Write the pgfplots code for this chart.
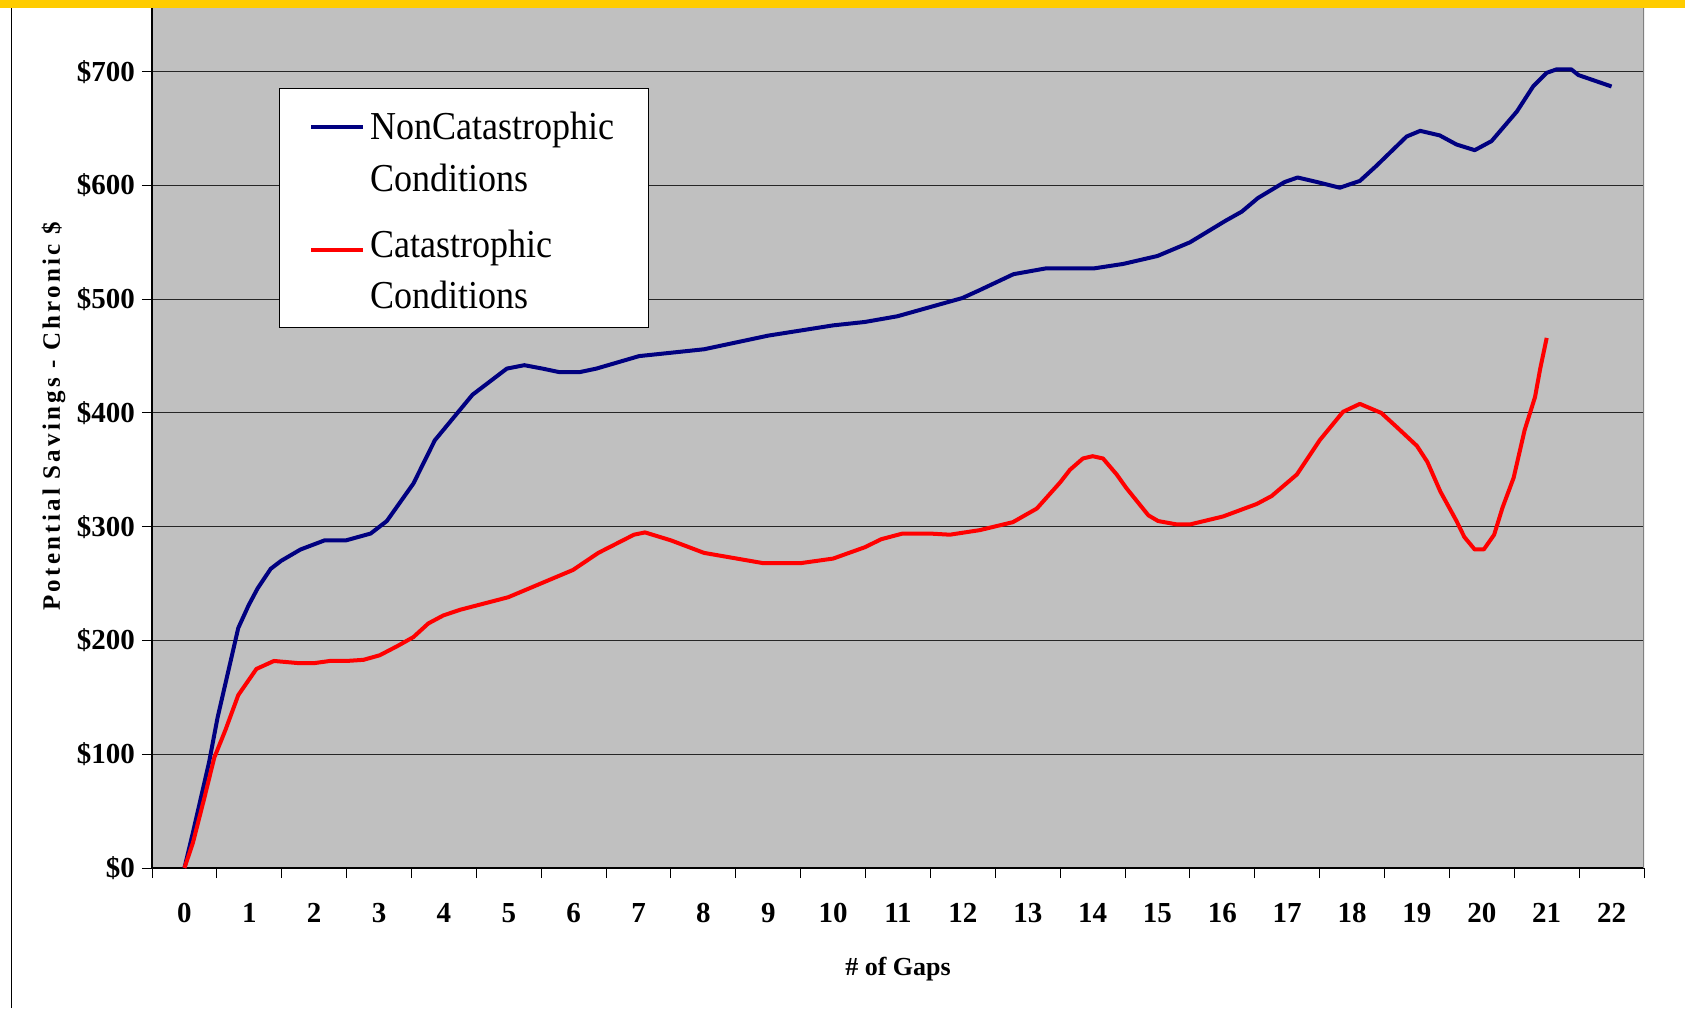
\documentclass[border=0pt]{standalone}
\usepackage{fontspec}
\setmainfont{Liberation Serif}
\usepackage{graphicx}
\usepackage{pgfplots}
\pgfplotsset{compat=1.18}
\definecolor{plotgray}{RGB}{192,192,192}
\definecolor{navyline}{RGB}{0,0,128}
\definecolor{redline}{RGB}{255,0,0}
\definecolor{barYellow}{RGB}{255,204,0}
\newcommand{\lt}[1]{\scalebox{1}[1.1]{#1}}

\pgfplotstableread{
x y
0 0
0.13 31
0.38 93
0.51 132
0.83 211
0.99 231
1.13 246
1.33 263
1.49 270
1.79 280
2.16 288
2.49 288
2.87 294
3.12 305
3.53 338
3.86 376
4.44 416
4.97 439
5.24 442
5.52 439
5.77 436
6.10 436
6.35 439
7.01 450
8.01 456
9.00 468
10.00 477
10.49 480
10.99 485
11.99 501
12.26 508
12.78 522
13.27 527
14.01 527
14.47 531
15.00 538
15.50 550
16.05 569
16.30 577
16.55 589
16.96 603
17.16 607
17.46 603
17.81 598
18.12 604
18.37 617
18.84 643
19.05 648
19.35 644
19.61 636
19.89 631
20.15 639
20.54 665
20.79 687
21.00 699
21.15 702
21.38 702
21.49 697
22.00 687
}\bluedata

\pgfplotstableread{
x y
0 0
0.13 22
0.30 60
0.46 97
0.63 121
0.83 152
1.11 175
1.38 182
1.78 180
1.99 180
2.24 182
2.50 182
2.76 183
3.01 187
3.28 195
3.53 203
3.76 215
3.99 222
4.25 227
4.99 238
5.99 262
6.38 277
6.93 293
7.10 295
7.50 288
8.01 277
8.92 268
9.50 268
10.00 272
10.49 282
10.74 289
11.07 294
11.49 294
11.80 293
12.26 297
12.77 304
13.14 316
13.50 339
13.65 350
13.85 360
14.00 362
14.16 360
14.37 346
14.52 334
14.86 310
15.01 305
15.30 302
15.50 302
16.01 309
16.53 320
16.76 327
17.15 346
17.50 376
17.86 401
18.12 408
18.45 400
18.70 387
19.00 371
19.16 357
19.36 331
19.61 305
19.73 291
19.89 280
20.03 280
20.19 293
20.32 317
20.49 343
20.66 385
20.82 414
20.90 439
21.00 466
}\reddata

\begin{document}
\begin{tikzpicture}
\useasboundingbox (0,0) rectangle (842.5pt,504pt);
\fill[barYellow] (0,500pt) rectangle (842.5pt,504pt);
\draw[line width=0.6pt] (5.75pt,0) -- (5.75pt,500pt);
\begin{axis}[
  at={(76pt,70pt)}, anchor=south west,
  scale only axis, width=746pt, height=430pt,
  xmin=-0.5, xmax=22.5, ymin=0, ymax=756,
  axis background/.style={fill=plotgray},
  axis x line*=bottom, axis y line*=left,
  axis line style={black, line width=0.6pt},
  tick align=outside, major tick length=5pt,
  tick style={black, line width=0.5pt},
  ytick={0,100,...,700},
  yticklabels={\$0,\$100,\$200,\$300,\$400,\$500,\$600,\$700},
  xtick={-0.5,0.5,...,22.5},
  xticklabels={},
  extra x ticks={0,1,...,22},
  extra x tick labels={0,1,2,3,4,5,6,7,8,9,10,11,12,13,14,15,16,17,18,19,20,21,22},
  extra x tick style={major tick length=0pt},
  ticklabel style={font=\fontsize{14.5}{16}\selectfont\bfseries},
  xticklabel style={yshift=-14pt},
  ymajorgrids,
  major grid style={black!85, line width=0.5pt},
  xlabel={\# of Gaps},
  xlabel style={at={(axis description cs:0.5,0)}, anchor=center, yshift=-50.5pt, font=\fontsize{13}{15}\selectfont\bfseries},
  ylabel={Potential Savings - Chronic \$},
  ylabel style={at={(axis description cs:-0.066,0.525)}, anchor=center, font=\fontsize{12.5}{14}\selectfont\bfseries\addfontfeatures{LetterSpace=13}},
  legend cell align=left,
  legend image code/.code={\draw[#1] (0pt,0.5pt) -- (26pt,0.5pt);},
  legend style={at={(axis description cs:0.0851,0.907)}, anchor=north west,
    draw=black, fill=white, line width=0.5pt,
    font=\fontsize{18}{22}\selectfont,
    nodes={inner sep=2pt},
    inner xsep=15pt, inner ysep=4pt, row sep=0pt, column sep=0.5pt},
]
\addplot[navyline, line width=2pt, line join=round] table[x=x,y=y] {\bluedata};
\addlegendentry[text height=19.5pt, text depth=8pt]{\lt{NonCatastrophic}}
\addlegendimage{empty legend}
\addlegendentry[text height=14pt, text depth=15pt]{\lt{Conditions}}
\addplot[redline, line width=2pt, line join=round] table[x=x,y=y] {\reddata};
\addlegendentry[text height=14pt, text depth=7.5pt]{\lt{Catastrophic}}
\addlegendimage{empty legend}
\addlegendentry[text height=14pt, text depth=3.5pt]{\lt{Conditions}}
\draw[gray, line width=0.6pt] (rel axis cs:1,0) -- (rel axis cs:1,1);
\end{axis}
\end{tikzpicture}
\end{document}
